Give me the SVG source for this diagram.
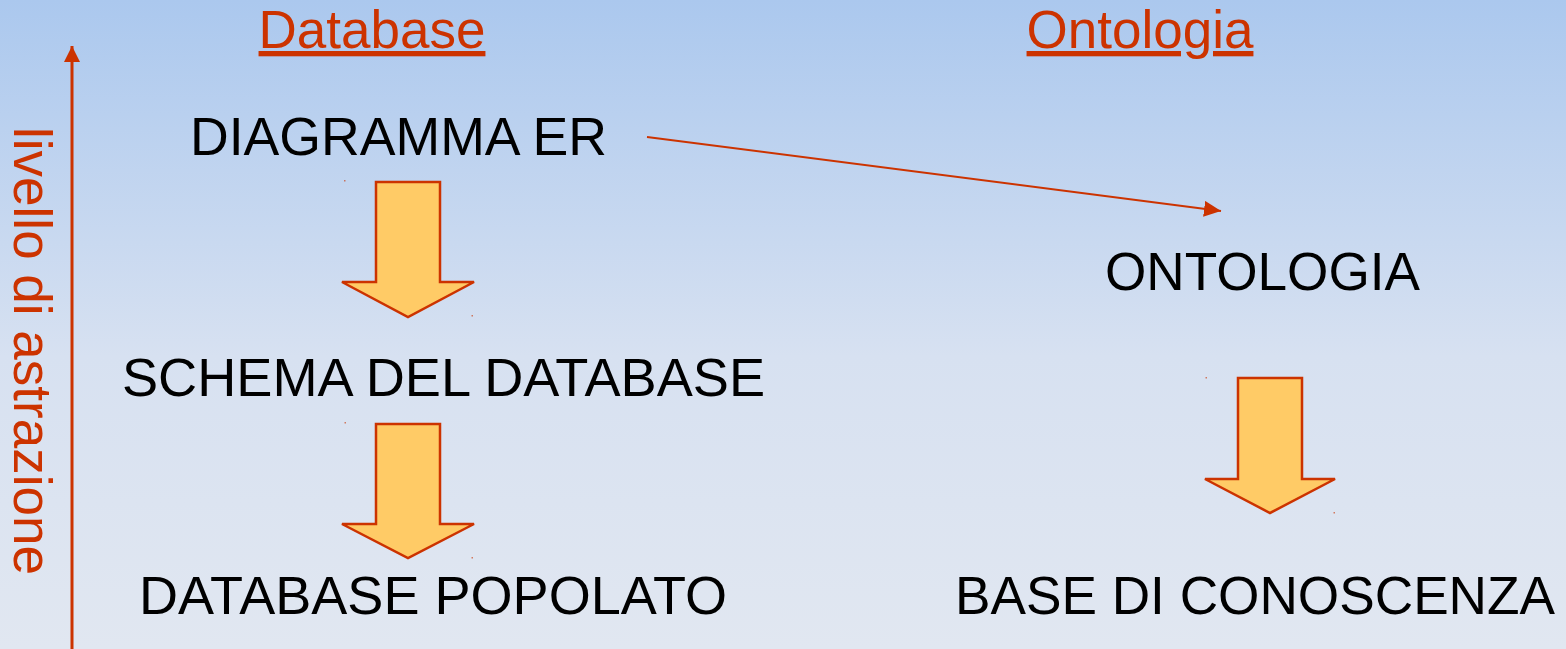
<svg xmlns="http://www.w3.org/2000/svg" width="1566" height="649" viewBox="0 0 1566 649">
<defs>
<linearGradient id="bg" x1="0" y1="0" x2="0" y2="1">
<stop offset="0" stop-color="#abc8ee"/>
<stop offset="0.55" stop-color="#d7e1f1"/>
<stop offset="1" stop-color="#e1e7f1"/>
</linearGradient>
<marker id="ah" viewBox="0 0 17 16" refX="17" refY="8" markerWidth="17" markerHeight="16" markerUnits="userSpaceOnUse" orient="auto">
<path d="M0,0 L17,8 L0,16 Z" fill="#cc3300"/>
</marker>
<marker id="ahv" viewBox="0 0 16 16" refX="16" refY="8" markerWidth="16" markerHeight="16" markerUnits="userSpaceOnUse" orient="auto">
<path d="M0,0 L16,8 L0,16 Z" fill="#cc3300"/>
</marker>
</defs>
<style>
.lbl{font-family:"Liberation Sans",Arial,sans-serif;font-size:54px;fill:#000}
.hdr{font-family:"Liberation Sans",Arial,sans-serif;font-size:53px;fill:#cc3300;text-decoration:underline}
.axis{font-family:"Liberation Sans",Arial,sans-serif;font-size:53px;fill:#cc3300}
.big{fill:#ffcb66;stroke:#cc3300;stroke-width:2.5;stroke-linejoin:miter}
.dot{fill:#cc3300;opacity:0.6}
.conn{stroke:#cc3300;fill:none}
</style>
<rect x="0" y="0" width="1566" height="649" fill="url(#bg)"/>

<g id="axis">
<line class="conn" x1="72" y1="649" x2="72" y2="46" stroke-width="3" marker-end="url(#ahv)"/>
<text class="axis" transform="translate(14,127) rotate(90)" textLength="448" lengthAdjust="spacing">livello di astrazione</text>
</g>

<g id="header-database"><text class="hdr" x="372" y="48" text-anchor="middle">Database</text></g>
<g id="header-ontologia"><text class="hdr" x="1140" y="48" text-anchor="middle">Ontologia</text></g>

<g id="node-diagramma"><text class="lbl" x="190" y="155" textLength="417" lengthAdjust="spacingAndGlyphs">DIAGRAMMA ER</text></g>
<g id="node-schema"><text class="lbl" x="122" y="396" textLength="643" lengthAdjust="spacingAndGlyphs">SCHEMA DEL DATABASE</text></g>
<g id="node-popolato"><text class="lbl" x="139" y="614" textLength="588" lengthAdjust="spacingAndGlyphs">DATABASE POPOLATO</text></g>
<g id="node-ontologia"><text class="lbl" x="1105" y="290" textLength="315" lengthAdjust="spacingAndGlyphs">ONTOLOGIA</text></g>
<g id="node-base"><text class="lbl" x="955" y="614" textLength="600" lengthAdjust="spacingAndGlyphs">BASE DI CONOSCENZA</text></g>

<g id="connectors">
<g id="arrow1">
<polygon class="big" points="376,182 440,182 440,282 474,282 408,317 342,282 376,282"/>
<rect class="dot" x="344" y="180" width="1.5" height="1.5"/>
<rect class="dot" x="471.5" y="315" width="1.5" height="1.5"/>
</g>
<g id="arrow2">
<polygon class="big" points="376,424 440,424 440,524 474,524 408,558 342,524 376,524"/>
<rect class="dot" x="344.5" y="422" width="1.5" height="1.5"/>
<rect class="dot" x="471.5" y="557" width="1.5" height="1.5"/>
</g>
<g id="arrow3">
<polygon class="big" points="1238,378 1302,378 1302,479 1335,479 1270,513 1205,479 1238,479"/>
<rect class="dot" x="1205.5" y="377" width="1.5" height="1.5"/>
<rect class="dot" x="1333.5" y="512" width="1.5" height="1.5"/>
</g>
<line class="conn" x1="647" y1="137" x2="1221" y2="211" stroke-width="2" marker-end="url(#ah)"/>
</g>
</svg>
